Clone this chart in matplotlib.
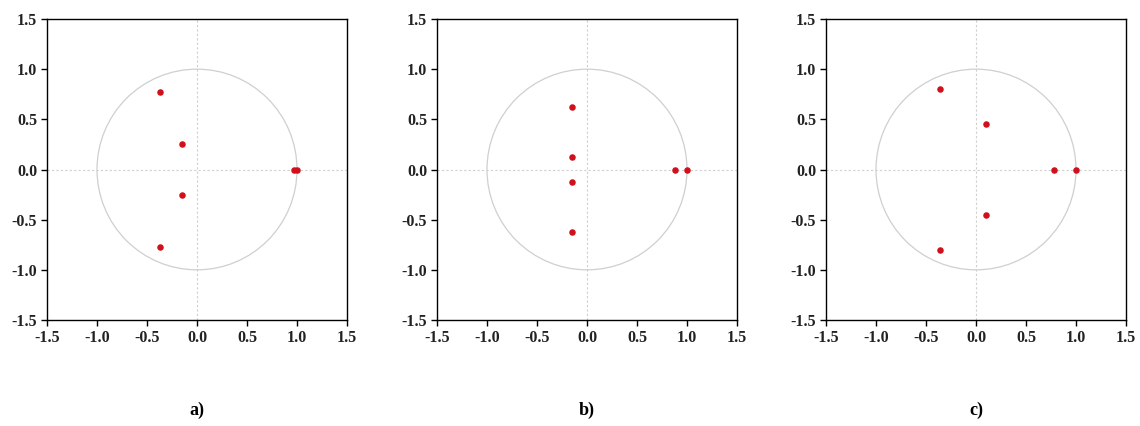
import numpy as np
import matplotlib.pyplot as plt
from matplotlib.patches import Circle

# inverse roots of the AR characteristic polynomial (real, imag)
roots_a_re = [-0.37, -0.37, -0.15, -0.15, 0.97, 1.0]
roots_a_im = [0.77, -0.77, 0.25, -0.25, 0.0, 0.0]

roots_b_re = [-0.15, -0.15, -0.15, -0.15, 0.88, 1.0]
roots_b_im = [0.62, -0.62, 0.12, -0.12, 0.0, 0.0]

roots_c_re = [-0.36, -0.36, 0.10, 0.10, 0.78, 1.0]
roots_c_im = [0.80, -0.80, 0.45, -0.45, 0.0, 0.0]

panel_labels = ["a)", "b)", "c)"]
ticks = [-1.5, -1.0, -0.5, 0.0, 0.5, 1.0, 1.5]

plt.rcParams["font.family"] = ["Liberation Serif", "DejaVu Serif"]

fig = plt.figure(figsize=(11.4, 4.26), dpi=100)
W, H = 1140, 426
lefts = [47, 437, 826]
ax_w, ax_top, ax_bot = 300, 19, 320

panels = [(roots_a_re, roots_a_im), (roots_b_re, roots_b_im), (roots_c_re, roots_c_im)]

for left, (re, im), lab in zip(lefts, panels, panel_labels):
    ax = fig.add_axes([left / W, 1 - ax_bot / H, ax_w / W, (ax_bot - ax_top) / H])
    ax.add_patch(Circle((0, 0), 1.0, fill=False, edgecolor="#cfcfcf", linewidth=0.9))
    ax.axhline(0, color="#cfcfcf", linestyle=(0, (2, 2)), linewidth=0.8)
    ax.axvline(0, color="#cfcfcf", linestyle=(0, (2, 2)), linewidth=0.8)
    ax.scatter(re, im, s=22, color="#d0101a", zorder=3, linewidths=0)
    ax.set_xlim(-1.5, 1.5)
    ax.set_ylim(-1.5, 1.5)
    ax.set_xticks(ticks)
    ax.set_yticks(ticks)
    ax.set_xticklabels([f"{t:.1f}" for t in ticks])
    ax.set_yticklabels([f"{t:.1f}" for t in ticks])
    ax.tick_params(direction="out", length=4, width=1, labelsize=11.5, pad=3)
    for lbl in ax.get_xticklabels() + ax.get_yticklabels():
        lbl.set_fontweight("bold")
        lbl.set_color("#222222")
    for sp in ax.spines.values():
        sp.set_linewidth(1.0)
    fig.text((left + ax_w / 2) / W, 1 - 410 / H, lab, ha="center", va="center",
             fontsize=13, fontweight="bold")

fig.savefig("out.png", dpi=100)
